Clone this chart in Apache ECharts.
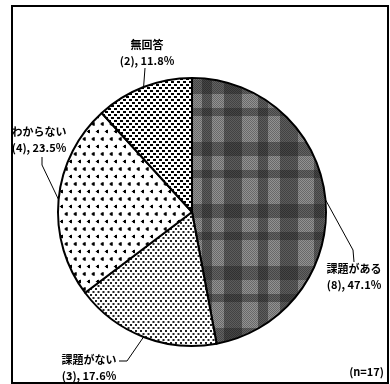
<!DOCTYPE html>
<html>
<head>
<meta charset="utf-8">
<script src="https://cdn.jsdelivr.net/npm/echarts@6/dist/echarts.min.js"></script>
<style>
html, body { margin: 0; padding: 0; background: #fff; }
#chart { width: 390px; height: 384px; }
</style>
</head>
<body>
<div id="chart"></div>
<script>
var categories = ['課題がある', '課題がない', 'わからない', '無回答'];
var counts = [8, 3, 4, 2];
var total = 17;

// label anchor / leader line bend points for each slice
var labelPos = [
	{ x: 354, y: 277, bend: [[353, 250], [354, 262]] },
	{ x: 89, y: 368, bend: [[127, 361], [119, 361]] },
	{ x: 39, y: 140, bend: [[42, 165], [42, 157]] },
	{ x: 147, y: 53, bend: [[145, 68]] }
];

var cx = 192, cy = 212, r = 134;

function makeTile(w, h, draw) {
	var c = document.createElement('canvas');
	c.width = w;
	c.height = h;
	var ctx = c.getContext('2d');
	draw(ctx, w, h);
	return c;
}

// dark plaid halftone
var plaid = makeTile(56, 62, function(ctx, w, h) {
	ctx.fillStyle = '#929292';
	ctx.fillRect(0, 0, w, h);
	ctx.fillStyle = 'rgba(40,40,40,0.5)';
	ctx.fillRect(0, 0, 18, h);
	ctx.fillRect(34, 0, 10, h);
	ctx.fillStyle = 'rgba(40,40,40,0.45)';
	ctx.fillRect(0, 18, w, 14);
	ctx.fillRect(0, 46, w, 8);
	ctx.fillStyle = 'rgba(0,0,0,0.28)';
	for (var y = 0; y < h; y++) {
		for (var x = (y % 2); x < w; x += 2) {
			ctx.fillRect(x, y, 1, 1);
		}
	}
});

// fine dots
var fineDots = makeTile(5, 6, function(ctx) {
	ctx.fillStyle = '#fff';
	ctx.fillRect(0, 0, 5, 6);
	ctx.fillStyle = '#222';
	ctx.fillRect(0, 0, 2, 2);
	ctx.fillRect(2.5, 3, 2, 2);
});

// small arrow marks
var arrows = makeTile(9, 15, function(ctx) {
	ctx.fillStyle = '#fff';
	ctx.fillRect(0, 0, 9, 15);
	ctx.fillStyle = '#000';
	function mark(x, y) {
		ctx.beginPath();
		ctx.moveTo(x, y + 2);
		ctx.lineTo(x + 3.5, y);
		ctx.lineTo(x + 3.5, y + 4);
		ctx.closePath();
		ctx.fill();
		ctx.fillRect(x + 1.5, y + 0.5, 2, 3);
	}
	mark(1, 2);
	mark(5.5, 9.5);
});

// dense black blobs
var blobs = makeTile(6, 6, function(ctx) {
	ctx.fillStyle = '#fff';
	ctx.fillRect(0, 0, 6, 6);
	ctx.fillStyle = '#000';
	ctx.fillRect(0, 0, 3, 2);
	ctx.fillRect(1, 1, 1, 1);
	ctx.fillRect(3, 3, 3, 2);
	ctx.fillRect(4, 4, 1, 1);
});

var fills = [plaid, fineDots, arrows, blobs];

// mid angle edge points (clockwise from top)
var edges = [];
var acc = 0;
for (var i = 0; i < counts.length; i++) {
	var mid = (acc + counts[i] / 2) / total * Math.PI * 2;
	edges.push([cx + Math.sin(mid) * r, cy - Math.cos(mid) * r]);
	acc += counts[i];
}

var data = categories.map(function(name, i) {
	return {
		name: name,
		value: counts[i],
		itemStyle: { color: { image: fills[i], repeat: 'repeat' } }
	};
});

var chart = echarts.init(document.getElementById('chart'));
chart.setOption({
	animation: false,
	graphic: [{
		type: 'rect',
		shape: { x: 12, y: 6, width: 376, height: 377 },
		style: { fill: 'none', stroke: '#000', lineWidth: 2 },
		z: 0
	}, {
		type: 'text',
		right: 6,
		top: 366,
		style: {
			text: '(n=17)',
			font: 'bold 11px "Noto Sans CJK JP"',
			fill: '#000'
		}
	}],
	series: [{
		type: 'pie',
		center: [cx, cy],
		radius: r,
		startAngle: 90,
		clockwise: true,
		percentPrecision: 1,
		avoidLabelOverlap: false,
		itemStyle: { borderColor: '#000', borderWidth: 2 },
		emphasis: { disabled: true },
		label: {
			show: true,
			position: 'outside',
			overflow: 'none',
			formatter: '{b}\n({c}), {d}%',
			color: '#000',
			fontFamily: 'Noto Sans CJK JP',
			fontWeight: 'bold',
			fontSize: 11,
			lineHeight: 16,
			align: 'center'
		},
		labelLine: {
			show: true,
			lineStyle: { color: '#000', width: 1 }
		},
		labelLayout: function(params) {
			var p = labelPos[params.dataIndex];
			return {
				x: p.x,
				y: p.y,
				align: 'center',
				verticalAlign: 'middle',
				labelLinePoints: [edges[params.dataIndex]].concat(p.bend)
			};
		},
		data: data
	}]
});
</script>
</body>
</html>
